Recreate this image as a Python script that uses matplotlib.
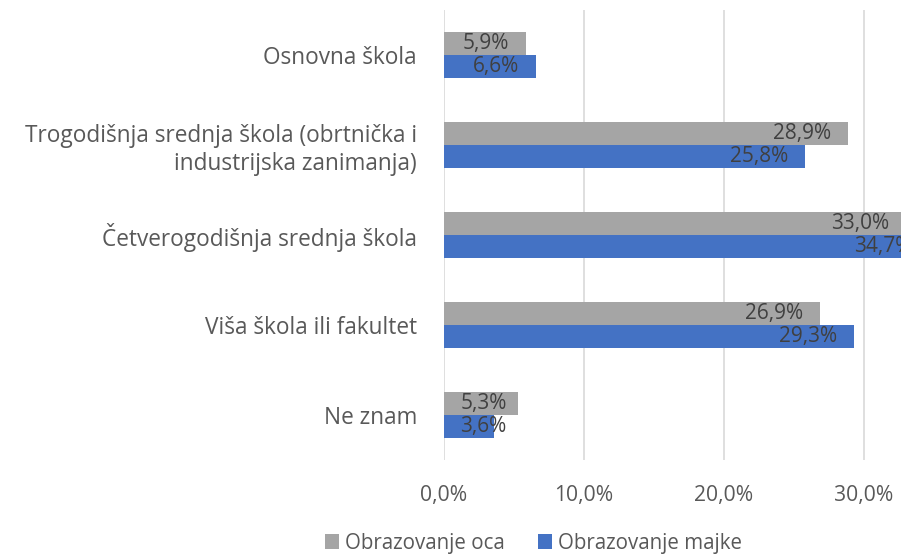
import matplotlib.pyplot as plt
import numpy as np
from matplotlib.ticker import FuncFormatter

# data (top to bottom)
categories = ['Osnovna škola',
              'Trogodišnja srednja škola (obrtnička i\nindustrijska zanimanja)',
              'Četverogodišnja srednja škola',
              'Viša škola ili fakultet',
              'Ne znam']
otac = [5.9, 28.9, 33.0, 26.9, 5.3]
majka = [6.6, 25.8, 34.7, 29.3, 3.6]
series_names = ['Obrazovanje oca', 'Obrazovanje majke']

plt.rcParams['font.family'] = ['Open Sans', 'DejaVu Sans']
txt_color = '#595959'

fig = plt.figure(figsize=(9.01, 5.57), dpi=100)
ax = fig.add_axes([443.5 / 901, 97 / 557, (901 - 443.5) / 901, 450 / 557])

y = np.arange(len(categories))
h = 0.256
b1 = ax.barh(y - h / 2, otac, height=h, color='#A5A5A5', label=series_names[0], zorder=2)
b2 = ax.barh(y + h / 2, majka, height=h, color='#4472C4', label=series_names[1], zorder=2)

def pct(v):
    return f'{v:.1f}%'.replace('.', ',')

# labels sit inside the bar end; short bars get them pinned near the axis instead
for bars, vals in [(b1, otac), (b2, majka)]:
    for bar, v in zip(bars, vals):
        yc = bar.get_y() + bar.get_height() / 2
        if v < 5.65:
            xy, dx, ha = (0, yc), 12, 'left'
        else:
            xy, dx, ha = (v, yc), -12, 'right'
        ax.annotate(pct(v), xy, xytext=(dx, 0), textcoords='offset points',
                    ha=ha, va='center', fontsize=15, color='#404040',
                    annotation_clip=False, zorder=3)

ax.set_ylim(len(categories) - 0.5, -0.5)
ax.set_xlim(0, (901 - 443.5) / 14)
ax.set_yticks(y)
ax.set_yticklabels(categories, fontsize=16.3, color=txt_color)
ax.set_xticks([0, 10, 20, 30])
ax.xaxis.set_major_formatter(FuncFormatter(lambda x, p: pct(x)))
ax.tick_params(axis='x', labelsize=15.2, colors=txt_color, length=0, pad=18)
ax.tick_params(axis='y', length=0, pad=19)
ax.grid(axis='x', color='#D9D9D9', linewidth=1.2, zorder=0)
for s in ax.spines.values():
    s.set_visible(False)

ax.legend(loc='center', bbox_to_anchor=(533.5 / 901, (557 - 543) / 557),
          bbox_transform=fig.transFigure, ncol=2, frameon=False,
          fontsize=14.8, handlelength=0.7, handleheight=0.7,
          handletextpad=0.3, columnspacing=1.6, labelcolor=txt_color)

fig.savefig('out.png', dpi=100)
